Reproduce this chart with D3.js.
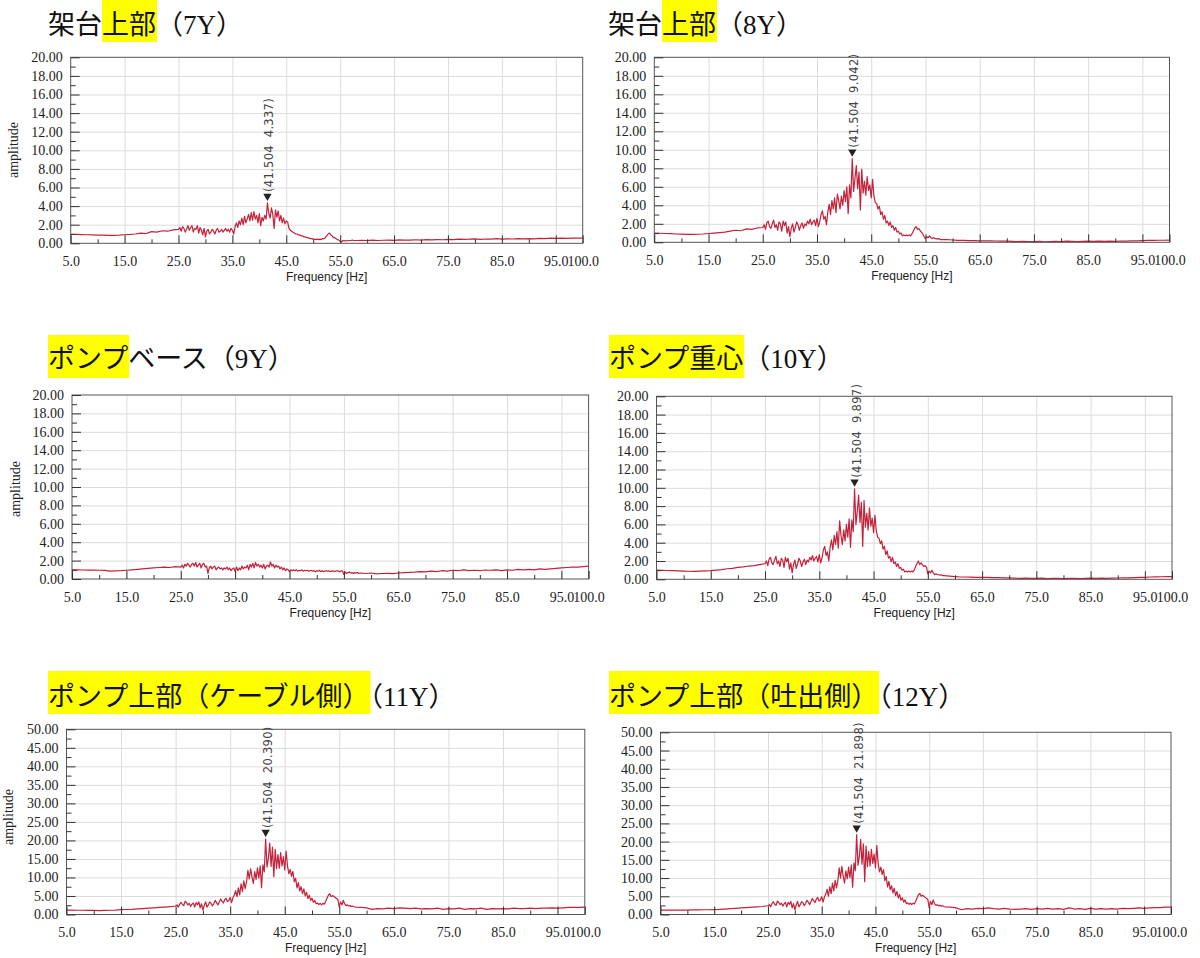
<!DOCTYPE html>
<html>
<head>
<meta charset="utf-8">
<title>Frequency spectra 7Y-12Y</title>
<script src="https://cdn.jsdelivr.net/npm/d3@7/dist/d3.min.js"></script>
<style>
body { margin: 0; background: #fff; }
.axis text { font-family: "Liberation Serif", "Times New Roman", serif; font-size: 14px; fill: #222; }
.axis line { stroke: #333; }
.grid line { stroke: #dcdcdc; }
.title { font-family: "Liberation Serif", "Noto Sans CJK JP", serif; font-size: 27px; fill: #111; }
.title .half { font-feature-settings: "halt" 1; }
.xlab { font-family: "Liberation Sans", Arial, sans-serif; font-size: 12px; fill: #222; }
.ylab { font-family: "Liberation Serif", serif; font-size: 14px; fill: #222; }
.peak { font-family: "DejaVu Sans", sans-serif; font-size: 11.5px; fill: #444; letter-spacing: 0.3px; }
</style>
</head>
<body>
<svg id="chart" width="1200" height="958"></svg>
<script>
// ---- data ----
var FREQ_LO = [5,6,7,8,9,10,11,12,13,14,15,16,17,18,19,20,21,22,23,24];
var FREQ_MID = [25,25.25,25.5,25.75,26,26.25,26.5,26.75,27,27.25,27.5,27.75,28,28.25,28.5,28.75,
  29,29.25,29.5,29.75,30,30.25,30.5,30.75,31,31.25,31.5,31.75,32,32.25,32.5,32.75,
  33,33.25,33.5,33.75,34,34.25,34.5,34.75,35,35.25,35.5,35.75,36,36.25,36.5,36.75,
  37,37.25,37.5,37.75,38,38.25,38.5,38.75,39,39.25,39.5,39.75,40,40.25,40.5,40.75,
  41,41.25,41.5,41.75,42,42.25,42.5,42.75,43,43.25,43.5,43.75,44,44.25,44.5,44.75,
  45,45.25,45.5,45.75,46,46.25,46.5,46.75,47,47.25,47.5,47.75,48,48.25,48.5,48.75,
  49,49.25,49.5,49.75,50,50.25,50.5,50.75,51,51.25,51.5,51.75,52,52.25,52.5,52.75,
  53,53.25,53.5,53.75,54,54.25,54.5,54.75,55,55.25,55.5,55.75,56,56.25,56.5,56.75,
  57,57.25,57.5,57.75];
var FREQ_HI = [58,59,60,61,62,63,64,65,66,67,68,69,70,71,72,73,74,75,76,77,78,79,80,
  81,82,83,84,85,86,87,88,89,90,91,92,93,94,95,96,97,98,99,100];

var AMP_7Y = [0.95,0.95,0.93,0.92,0.9,0.88,0.87,0.85,0.86,0.88,0.92,0.95,1.0,1.1,1.05,1.25,1.2,1.35,1.3,1.45,
  1.5,1.7,1.3,1.8, 1.6,1.2,1.5,1.9,
  1.4,1.7,1.9,1.2, 1.6,1.5,1.9,1.1,
  1.7,1.4,0.9,1.6, 0.7,1.3,1.5,1.0,
  1.2,1.5,1.3,1.0, 1.4,1.6,1.2,1.3,
  1.5,1.2,1.4,1.6, 1.3,1.5,1.2,1.6,
  1.4,1.0,1.8,2.2, 1.7,2.4,2.0,2.7,
  2.0,2.9,2.2,2.6, 3.1,2.4,3.3,2.5,
  3.4,2.6,3.0,2.2, 3.2,1.9,2.8,2.4,
  3.0,2.6,4.337,3.2, 2.7,3.8,3.1,1.6,
  3.6,2.8,3.5,2.4, 3.0,2.2,2.7,2.1,
  2.4,2.3,1.6,1.4, 1.3,1.2,1.1,1.0,
  1.0,0.9,0.9,0.8, 0.8,0.7,0.7,0.6,
  0.6,0.55,0.5,0.5, 0.45,0.45,0.4,0.45,
  0.4,0.45,0.4,0.5, 0.5,0.6,0.8,1.0,
  1.1,0.9,0.8,0.6, 0.6,0.5,0.4,0.35,
  0.2,0.15,0.3,0.25, 0.3,0.25,0.3,0.3,
  0.3,0.35,0.3,0.3,
  0.3,0.32,0.3,0.35,0.3,0.33,0.35,0.32,0.36,0.34,0.35, 0.38,0.35,0.4,0.37,0.4,0.38,0.42,0.4,0.45,0.42,
  0.44,0.48,0.42,0.46,0.45,0.5,0.44,0.48,0.46,0.5, 0.47,0.5,0.48,0.52,0.5,0.55,0.52,0.55,0.54,0.56,0.55,0.56];

var AMP_8Y = [1.0,0.98,0.95,0.93,0.9,0.88,0.86,0.85,0.87,0.9,0.95,1.0,1.05,1.1,1.2,1.3,1.25,1.45,1.4,1.55,
  1.6,1.9,1.4,2.1, 2.3,1.7,1.5,2.0,
  2.4,1.6,1.9,1.3, 2.2,2.0,1.2,2.3,
  1.8,2.2,1.0,1.7, 0.6,1.5,2.0,1.1,
  1.6,2.2,1.9,1.3, 1.8,2.1,1.5,2.0,
  1.8,2.3,2.0,2.5, 1.9,2.2,2.4,1.8,
  2.6,1.7,2.2,3.0, 3.4,2.5,2.8,1.9,
  3.3,4.1,3.0,4.5, 3.6,4.8,3.2,5.2,
  4.5,3.6,5.0,4.0, 5.6,4.4,6.0,3.1,
  6.2,4.8,9.042,5.5, 6.9,8.3,5.8,7.6,
  3.5,7.9,5.3,6.6, 5.1,7.1,5.6,6.2,
  4.8,6.8,5.0,4.3, 4.2,3.6,3.9,3.0,
  3.3,2.5,2.9,2.1, 2.3,1.8,2.2,1.6,
  1.8,1.3,1.6,1.1, 1.2,0.9,1.0,0.7,
  0.8,0.7,0.8,0.7, 0.8,0.7,0.9,1.2,
  1.5,1.7,1.4,1.5, 1.3,1.1,0.9,0.6,
  0.4,0.6,0.5,0.7, 0.5,0.4,0.5,0.4,
  0.4,0.35,0.4,0.3,
  0.3,0.3,0.25,0.2,0.2,0.18,0.18,0.16,0.15,0.15,0.14, 0.13,0.12,0.1,0.08,0.1,0.07,0.08,0.1,0.06,0.08,
  0.1,0.08,0.12,0.1,0.08,0.1,0.12,0.1,0.12,0.1, 0.12,0.1,0.14,0.12,0.15,0.16,0.18,0.2,0.2,0.22,0.22,0.24];

var AMP_9Y = [1.0,0.99,0.98,0.97,0.96,0.95,0.93,0.85,0.88,0.9,0.95,1.0,1.05,1.1,1.15,1.2,1.25,1.3,1.25,1.35,
  1.3,1.5,1.2,1.6, 1.4,1.7,1.5,1.3,
  1.6,1.7,1.4,1.8, 1.3,1.5,1.7,1.2,
  1.6,1.7,1.3,1.4, 0.6,1.2,1.4,1.1,
  1.3,1.4,1.0,1.2, 1.3,1.1,1.2,1.0,
  1.2,1.1,1.3,1.0, 1.2,0.9,1.1,1.2,
  0.8,1.3,0.9,1.2, 1.0,1.4,1.1,1.3,
  1.2,1.5,1.0,1.6, 1.3,1.7,1.2,1.8,
  1.4,1.6,1.3,1.5, 1.2,1.6,1.1,1.4,
  1.5,1.3,1.85,1.4, 1.6,1.2,1.5,1.3,
  1.4,1.1,1.3,1.0, 1.2,0.9,1.1,1.0,
  0.8,1.0,0.9,1.0, 0.9,1.0,0.85,0.95,
  0.9,1.0,0.85,0.95, 0.9,0.95,0.85,0.9,
  0.95,0.85,0.9,0.8, 0.9,0.85,0.95,0.8,
  0.9,0.8,0.85,0.9, 0.85,0.9,0.8,0.85,
  0.9,0.8,0.85,0.9, 0.85,0.8,0.9,0.85,
  0.5,0.75,0.6,0.7, 0.75,0.65,0.7,0.6,
  0.7,0.65,0.7,0.6,
  0.65,0.6,0.65,0.55,0.6,0.62,0.58,0.65,0.7,0.72,0.75, 0.8,0.78,0.85,0.8,0.9,0.85,0.95,0.9,1.0,0.92,
  0.95,0.9,0.98,0.95,1.0,0.92,1.0,0.95,1.05,1.0, 1.05,1.0,1.1,1.05,1.1,1.15,1.2,1.25,1.3,1.3,1.35,1.4];

var AMP_10Y = [1.0,0.98,0.96,0.94,0.92,0.9,0.88,0.87,0.9,0.92,0.95,1.0,1.05,1.15,1.2,1.3,1.35,1.45,1.5,1.6,
  1.7,2.0,1.5,2.2, 2.4,1.8,1.6,2.1,
  2.5,1.7,2.0,1.4, 2.3,2.1,1.3,2.4,
  1.9,2.3,1.1,1.8, 0.7,1.6,2.1,1.2,
  1.7,2.3,2.0,1.4, 1.9,2.2,1.6,2.1,
  1.9,2.4,2.1,2.6, 2.0,2.3,2.5,1.9,
  2.7,1.8,2.3,3.2, 3.6,2.6,3.0,2.0,
  3.5,4.3,3.2,4.8, 3.8,5.2,3.4,6.4,
  4.8,3.8,5.4,4.2, 6.0,4.6,6.6,3.5,
  6.5,5.2,9.897,6.0, 7.4,9.2,6.2,8.4,
  3.6,8.6,5.7,7.2, 5.4,7.8,5.8,6.7,
  5.1,7.0,5.3,4.6, 4.5,3.9,4.2,3.3,
  3.6,2.7,3.1,2.3, 2.5,1.9,2.4,1.7,
  1.9,1.4,1.7,1.2, 1.3,1.0,1.1,0.8,
  0.9,0.8,0.9,0.8, 0.9,0.8,1.0,1.4,
  1.7,2.0,1.6,1.8, 1.6,1.4,1.5,1.3,
  0.6,0.9,0.7,1.0, 0.7,0.5,0.6,0.5,
  0.5,0.45,0.5,0.4,
  0.4,0.35,0.3,0.25,0.25,0.24,0.22,0.2,0.2,0.18,0.18, 0.16,0.15,0.12,0.1,0.12,0.1,0.1,0.12,0.08,0.1,
  0.1,0.08,0.1,0.1,0.08,0.1,0.12,0.1,0.12,0.1, 0.12,0.14,0.15,0.15,0.18,0.2,0.22,0.25,0.26,0.28,0.3,0.3];

var AMP_11Y = [1.2,1.2,1.15,1.15,1.1,1.1,1.05,1.1,1.15,1.2,1.3,1.35,1.4,1.5,1.6,1.7,1.8,1.9,2.0,2.1,
  2.3,2.6,2.0,2.8, 3.3,2.7,2.4,3.6,
  3.2,2.6,3.0,2.2, 2.8,3.1,2.0,3.2,
  2.6,3.4,1.8,2.9, 1.2,2.5,3.4,2.0,
  2.6,3.4,3.0,2.3, 2.9,3.8,3.2,2.6,
  3.3,4.2,3.6,3.1, 4.0,4.4,3.5,3.8,
  4.6,3.2,4.5,5.2, 6.4,4.8,7.2,5.3,
  8.3,6.2,9.1,7.0, 8.8,11.9,9.6,12.3,
  10.1,8.4,11.6,9.5, 12.6,9.8,13.1,7.2,
  13.4,11.5,20.39,12.8, 15.1,19.3,13.0,18.2,
  10.2,17.6,12.4,16.2, 12.5,16.7,13.1,15.6,
  12.0,17.1,13.2,11.0, 12.2,10.3,11.6,8.8,
  9.8,7.2,8.6,6.4, 7.5,5.6,6.9,5.0,
  6.0,4.3,5.2,3.8, 4.4,3.3,3.8,2.9,
  3.1,2.7,3.0,2.6, 3.0,2.8,3.5,4.4,
  5.2,5.6,4.8,5.1, 4.9,4.6,4.3,4.0,
  2.0,3.4,2.6,3.8, 2.8,2.4,2.6,2.3,
  2.4,2.2,2.3,2.1,
  2.0,1.9,1.8,1.4,1.6,1.5,1.7,1.6,1.8,1.7,1.6, 1.7,1.5,1.6,1.5,1.7,1.4,1.6,1.5,1.7,1.4,
  1.6,1.5,1.7,1.4,1.6,1.5,1.6,1.5,1.7,1.6, 1.6,1.7,1.6,1.7,1.7,1.8,1.7,1.8,1.9,1.9,1.9,2.0];

var AMP_12Y = [1.2,1.2,1.2,1.2,1.2,1.2,1.25,1.25,1.3,1.3,1.35,1.4,1.5,1.6,1.7,1.8,1.9,2.0,2.1,2.2,
  2.4,2.7,2.1,3.0, 3.5,2.8,2.5,3.7,
  3.3,2.7,3.1,2.3, 2.9,3.3,2.1,3.3,
  2.8,3.6,1.8,3.0, 1.3,2.6,3.6,2.1,
  2.7,3.5,3.2,2.4, 3.0,3.9,3.4,2.7,
  3.5,4.4,3.8,3.3, 4.2,4.7,3.7,4.0,
  4.9,3.4,4.8,5.6, 6.9,5.0,7.6,5.7,
  8.6,6.5,9.4,7.3, 9.2,12.8,10.0,13.2,
  10.5,8.6,12.0,9.8, 13.0,10.1,13.6,7.5,
  14.2,12.0,21.898,13.5, 16.0,20.6,13.8,19.4,
  9.0,18.8,13.1,17.3, 13.3,17.9,14.0,16.6,
  12.8,18.9,14.1,11.7, 13.0,11.0,12.3,9.3,
  10.4,7.6,9.1,6.8, 7.9,5.9,7.2,5.2,
  6.3,4.5,5.5,3.9, 4.6,3.4,4.0,3.0,
  3.2,2.8,3.1,2.7, 3.1,2.9,3.7,4.6,
  5.4,5.8,5.0,5.3, 5.0,4.7,4.4,4.1,
  1.9,3.6,2.7,4.0, 2.9,2.5,2.7,2.4,
  2.5,2.3,2.4,2.2,
  2.1,2.0,1.8,1.3,1.6,1.5,1.7,1.6,1.8,1.6,1.5, 1.7,1.5,1.4,1.5,1.6,1.4,1.6,1.5,1.7,1.5,
  1.6,1.4,1.8,1.5,1.6,1.4,1.7,1.5,1.6,1.5, 1.6,1.5,1.7,1.6,1.7,1.8,1.7,1.8,1.9,1.9,2.0,2.0];

var AMPS = [AMP_7Y, AMP_8Y, AMP_9Y, AMP_10Y, AMP_11Y, AMP_12Y];

// title pieces: [text, highlighted]
var TITLES = [
  [["架台", 0], ["上部", 1], ["（7Y）", 0]],
  [["架台", 0], ["上部", 1], ["（8Y）", 0]],
  [["ポンプ", 1], ["ベース", 0], ["（9Y）", 0]],
  [["ポンプ重心", 1], ["（10Y）", 0]],
  [["ポンプ上部（ケーブル側）", 1], ["（11Y）", 0]],
  [["ポンプ上部（吐出側）", 1], ["（12Y）", 0]]
];

var Y_MAX = [20, 20, 20, 20, 50, 50];
var Y_TICKS_20 = [0,2,4,6,8,10,12,14,16,18,20];
var Y_MINOR_20 = [1,3,5,7,9,11,13,15,17,19];
var Y_TICKS_50 = [0,5,10,15,20,25,30,35,40,45,50];
var Y_MINOR_50 = [2.5,7.5,12.5,17.5,22.5,27.5,32.5,37.5,42.5,47.5];

var X_TICKS = [5,15,25,35,45,55,65,75,85,95,100];
var X_MINOR = [10,20,30,40,50,60,70,80,90];
var X_GRID = [15,25,35,45,55,65,75,85,95];

var PEAK_FREQ = 41.504;
var PEAK_AMP = [4.337, 9.042, null, 9.897, 20.390, 21.898];

// ---- layout (plot boxes) ----
var LAYOUT = [
  {x0: 70.7,  x1: 582.7,  y0: 57.3,  y1: 243.3, tx: 48,  row: 0, ampX: 18,   ampY: 150},
  {x0: 654.3, x1: 1169.5, y0: 57.3,  y1: 242.3, tx: 608, row: 0},
  {x0: 72,    x1: 588.6,  y0: 395,   y1: 579,   tx: 48,  row: 1, ampX: 19.5, ampY: 489},
  {x0: 656.5, x1: 1172,   y0: 396.3, y1: 579.3, tx: 609, row: 1},
  {x0: 66.5,  x1: 584.8,  y0: 729.3, y1: 914.5, tx: 48,  row: 2, ampX: 12.5, ampY: 817},
  {x0: 660.5, x1: 1171,   y0: 732.3, y1: 914.5, tx: 609, row: 2}
];
var TITLE_BOX = [[0, 42], [335, 378], [671, 714]];
var TITLE_BASE = [33.6, 367.8, 706];

var FREQ = FREQ_LO.concat(FREQ_MID, FREQ_HI);
var svg = d3.select('#chart');
var boxLayer = svg.append('g');
var textLayer = svg.append('g');

// one text per title, tspans per piece; after a piece ending in "）" the next
// "（" is set half-width, as the scan packs "）（" tightly
function drawTitle(segs, L) {
  var t = textLayer.append('text').attr('class', 'title')
    .attr('x', L.tx).attr('y', TITLE_BASE[L.row]);
  segs.forEach(function(s, i) {
    var body = s[0], first;
    var packed = i > 0 && /）$/.test(segs[i - 1][0]) && body.charAt(0) == '（';
    if (packed) {
      first = t.append('tspan').attr('class', 'half').text('（');
      body = body.slice(1);
    }
    var main = t.append('tspan').text(body);
    if (!first) first = main;
    if (!s[1]) return;
    var a = first.node().getStartPositionOfChar(0).x;
    var mn = main.node(), b = mn.getEndPositionOfChar(mn.textContent.length - 1).x;
    var r = TITLE_BOX[L.row];
    boxLayer.append('rect').attr('x', a).attr('y', r[0])
      .attr('width', b - a + 1).attr('height', r[1] - r[0]).attr('fill', '#ffff00');
  });
}

LAYOUT.forEach(function(L, k) {
  var w = L.x1 - L.x0, h = L.y1 - L.y0;
  var x = d3.scaleLinear().domain([5, 100]).range([L.x0, L.x1]);
  var y = d3.scaleLinear().domain([0, Y_MAX[k]]).range([L.y1, L.y0]);
  var yt = Y_MAX[k] == 50 ? Y_TICKS_50 : Y_TICKS_20;
  var ym = Y_MAX[k] == 50 ? Y_MINOR_50 : Y_MINOR_20;
  var g = svg.append('g');

  drawTitle(TITLES[k], L);

  // grid
  g.append('g').attr('class', 'grid').attr('transform', 'translate(0,' + L.y1 + ')')
    .call(d3.axisBottom(x).tickValues(X_GRID).tickSize(-h).tickFormat(''))
    .call(function(s) { s.select('.domain').remove(); });
  g.append('g').attr('class', 'grid').attr('transform', 'translate(' + L.x0 + ',0)')
    .call(d3.axisLeft(y).tickValues(yt.slice(1, -1)).tickSize(-w).tickFormat(''))
    .call(function(s) { s.select('.domain').remove(); });

  // spectrum
  var pts = FREQ.map(function(f, i) { return [f, AMPS[k][i]]; })
    .filter(function(d) { return d[1] != null; });
  g.append('path').datum(pts)
    .attr('d', d3.line().x(function(d) { return x(d[0]); }).y(function(d) { return y(d[1]); }))
    .attr('fill', 'none').attr('stroke', '#c4213a').attr('stroke-width', 1.2)
    .attr('stroke-linejoin', 'round');

  // frame
  g.append('rect').attr('x', L.x0).attr('y', L.y0).attr('width', w).attr('height', h)
    .attr('fill', 'none').attr('stroke', '#555');

  // axes, ticks pointing inward
  g.append('g').attr('class', 'axis').attr('transform', 'translate(0,' + L.y1 + ')')
    .call(d3.axisBottom(x).tickValues(X_TICKS).tickFormat(d3.format('.1f')).tickSize(-8).tickPadding(13))
    .call(function(s) { s.select('.domain').remove(); });
  g.append('g').attr('class', 'axis').attr('transform', 'translate(0,' + L.y1 + ')')
    .call(d3.axisBottom(x).tickValues(X_MINOR).tickSize(-4).tickFormat(''))
    .call(function(s) { s.select('.domain').remove(); });
  g.append('g').attr('class', 'axis').attr('transform', 'translate(' + L.x0 + ',0)')
    .call(d3.axisLeft(y).tickValues(yt).tickFormat(d3.format('.2f')).tickSize(-9).tickPadding(8))
    .call(function(s) { s.select('.domain').remove(); });
  g.append('g').attr('class', 'axis').attr('transform', 'translate(' + L.x0 + ',0)')
    .call(d3.axisLeft(y).tickValues(ym).tickSize(-5).tickFormat(''))
    .call(function(s) { s.select('.domain').remove(); });

  g.append('text').attr('class', 'xlab').attr('text-anchor', 'middle')
    .attr('x', (L.x0 + L.x1) / 2).attr('y', L.y1 + 37.5).text('Frequency [Hz]');

  if (L.ampX != null) {
    g.append('text').attr('class', 'ylab').attr('text-anchor', 'middle')
      .attr('transform', 'translate(' + L.ampX + ',' + L.ampY + ') rotate(-90)').text('amplitude');
  }

  // peak marker
  if (PEAK_AMP[k] != null) {
    var px = x(PEAK_FREQ), tip = y(PEAK_AMP[k]) - 2;
    g.append('path').attr('d', d3.symbol(d3.symbolTriangle, 30)())
      .attr('transform', 'translate(' + px + ',' + (tip - 4.8) + ') rotate(180)')
      .attr('fill', '#222');
    g.append('text').attr('class', 'peak')
      .attr('transform', 'translate(' + (px + 6) + ',' + (tip - 9) + ') rotate(-90)')
      .text('(' + PEAK_FREQ.toFixed(3) + '\u00a0\u00a0' + PEAK_AMP[k].toFixed(3) + ')');
  }
});
</script>
</body>
</html>
